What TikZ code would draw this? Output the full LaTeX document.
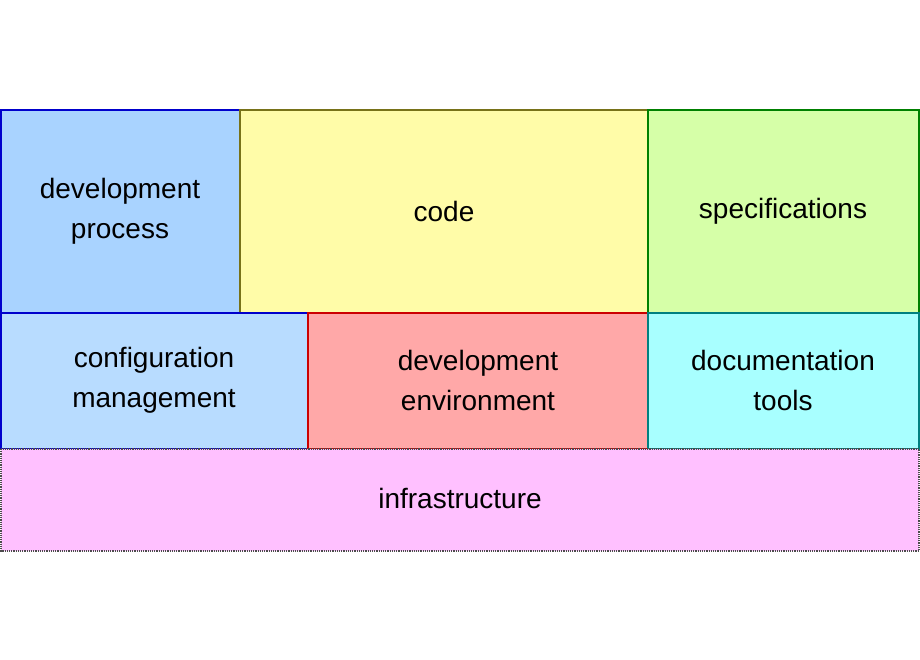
\documentclass[tikz,border=0pt]{standalone}
\usepackage{fontspec}
\setmainfont{Liberation Sans}
\begin{document}
\begin{tikzpicture}[x=1pt,y=-1pt,
  blk/.style={line width=1.2pt,align=center,font=\fontsize{28}{40}\selectfont}]
\useasboundingbox (0,0) rectangle (920,660);
\definecolor{cA}{HTML}{A9D3FF}\definecolor{cB}{HTML}{FFFCA8}\definecolor{cC}{HTML}{D6FFA8}
\definecolor{cD}{HTML}{B8DCFF}\definecolor{cE}{HTML}{FFA8A8}\definecolor{cF}{HTML}{A8FFFF}
\definecolor{cG}{HTML}{FFC0FF}
\filldraw[blk,fill=cA,draw=blue!80!black] (1,110) rectangle (240,313);
\node[blk] (dp) at (120,211) {development\\process};
\filldraw[blk,fill=cB,draw=olive!80!black] (240,110) rectangle (648,313);
\node[blk] (code) at (444,211) {code};
\filldraw[blk,fill=cC,draw=green!50!black] (648,110) rectangle (919,313);
\node[blk] (spec) at (783,211) {specifications};
\filldraw[blk,fill=cD,draw=blue!80!black] (1,313) rectangle (308,449);
\node[blk] (cm) at (154,380) {configuration\\management};
\filldraw[blk,fill=cE,draw=red!80!black] (308,313) rectangle (648,449);
\node[blk] (de) at (478,380) {development\\environment};
\filldraw[blk,fill=cF,draw=teal] (648,313) rectangle (919,449);
\node[blk] (dt) at (783,380) {documentation\\tools};
\filldraw[blk,fill=cG,draw=black!70,densely dotted] (1,449) rectangle (919,551);
\node[blk] (inf) at (460,498) {infrastructure};
\end{tikzpicture}
\end{document}
